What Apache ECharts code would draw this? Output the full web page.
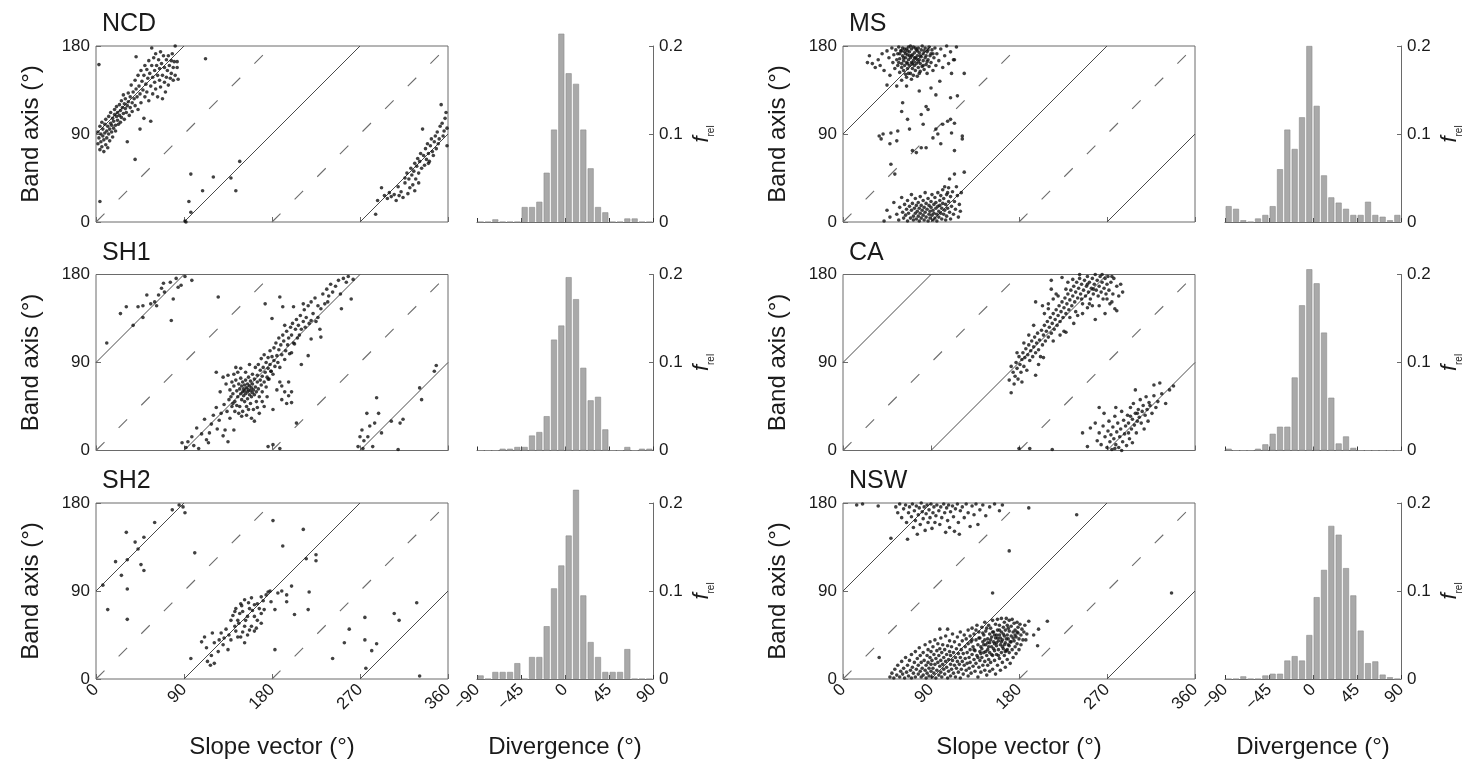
<!DOCTYPE html>
<html>
<head>
<meta charset="utf-8">
<script src="https://cdn.jsdelivr.net/npm/echarts@6/dist/echarts.min.js"></script>
<style>
html,body{margin:0;padding:0;background:#fff;}
#chart{width:1484px;height:769px;}
</style>
</head>
<body>
<div id="chart"></div>
<script>
// Site names, in panel order (left column top to bottom, then right column)
const SITES = ['NCD', 'SH1', 'SH2', 'MS', 'CA', 'NSW'];

// Tick values
const SLOPE_TICKS = [0, 90, 180, 270, 360];
const BAND_TICKS = [0, 90, 180];
const DIV_TICKS = [-90, -45, 0, 45, 90];
const FREL_TICKS = [0, 0.1, 0.2];

// Divergence histogram: 7.5° bins from -90 to 90 (bin centres)
const BIN_CENTERS = [-86.25, -78.75, -71.25, -63.75, -56.25, -48.75, -41.25, -33.75,
  -26.25, -18.75, -11.25, -3.75, 3.75, 11.25, 18.75, 26.25, 33.75, 41.25, 48.75,
  56.25, 63.75, 71.25, 78.75, 86.25];

// Relative frequencies per bin
const HIST_NCD = [0, 0, 0.003, 0, 0, 0, 0.017, 0.017, 0.023, 0.056, 0.105, 0.214,
  0.169, 0.157, 0.105, 0.061, 0.017, 0.011, 0, 0, 0.004, 0.004, 0, 0];
const HIST_SH1 = [0, 0, 0, 0.002, 0.002, 0.004, 0.004, 0.017, 0.021, 0.039, 0.126, 0.142,
  0.197, 0.172, 0.094, 0.057, 0.061, 0.024, 0, 0, 0.004, 0, 0.002, 0.002];
const HIST_SH2 = [0.004, 0, 0.008, 0.008, 0.008, 0.018, 0, 0.025, 0.025, 0.06, 0.103, 0.129,
  0.163, 0.215, 0.095, 0.042, 0.025, 0.008, 0.008, 0.008, 0.034, 0, 0, 0];
const HIST_MS = [0.018, 0.015, 0.002, 0, 0.004, 0.008, 0.018, 0.06, 0.105, 0.083, 0.119, 0.2,
  0.132, 0.053, 0.028, 0.022, 0.015, 0.008, 0.008, 0.023, 0.008, 0.006, 0.002, 0.008];
const HIST_CA = [0.002, 0, 0, 0, 0.002, 0.007, 0.019, 0.027, 0.027, 0.083, 0.165, 0.206,
  0.19, 0.134, 0.06, 0.008, 0.016, 0.003, 0, 0, 0, 0, 0, 0];
const HIST_NSW = [0, 0, 0.003, 0, 0, 0.004, 0.006, 0.006, 0.021, 0.026, 0.021, 0.05,
  0.093, 0.124, 0.174, 0.164, 0.126, 0.095, 0.055, 0.018, 0.02, 0.005, 0.002, 0];

// Slope vector / band axis pairs (deg), stored flat as x, y, x, y, ...
const PTS_NCD = [
  2,92, 2,80, 3,161, 3,86, 4,74, 4,98, 5,90, 5,82, 6,77, 6,102, 7,88, 7,95, 8,72, 8,84, 9,100, 9,91,
  10,79, 10,105, 11,93, 11,86, 12,98, 12,76, 13,108, 13,90, 14,95, 14,83, 15,101, 15,112, 16,92, 16,99,
  17,87, 17,106, 18,103, 18,96, 19,115, 19,110, 20,99, 20,93, 21,108, 21,118, 22,104, 22,112, 23,100,
  24,120, 24,109, 25,114, 25,102, 26,124, 26,107, 27,117, 28,111, 28,130, 29,105, 29,121, 30,116,
  30,126, 31,112, 32,82, 32,119, 33,132, 33,123, 34,109, 35,128, 35,117, 36,140, 37,122, 37,113,
  38,133, 39,126, 40,64, 40,119, 40,145, 41,169, 41,136, 42,128, 43,150, 43,115, 44,139, 45,131,
  45,95, 46,155, 46,122, 47,144, 48,135, 49,106, 49,150, 50,160, 50,128, 51,141, 52,156, 52,133,
  53,147, 54,165, 54,124, 55,152, 56,103, 56,139, 57,178, 57,160, 58,148, 58,131, 59,168, 60,155,
  60,143, 61,172, 61,136, 62,160, 63,150, 63,128, 64,166, 65,145, 65,157, 66,174, 66,138, 67,162,
  68,150, 68,126, 69,170, 70,143, 70,158, 71,133, 72,166, 72,148, 73,155, 74,170, 74,140, 75,160,
  76,147, 77,165, 77,152, 78,172, 79,158, 79,145, 80,164, 81,180, 81,150, 83,164, 83,158, 84,146,
  4,21, 112,167, 97,49, 95,21, 97,10, 91,1, 92,0, 109,32, 120,46, 138,45, 143,32, 147,62, 286,8,
  288,22, 292,35, 295,27, 298,24, 300,30, 302,26, 305,28, 307,22, 309,36, 310,27, 312,31, 314,25,
  316,40, 318,50, 319,29, 320,44, 321,35, 322,55, 323,48, 324,38, 325,52, 326,60, 327,44, 328,57,
  329,65, 330,50, 331,62, 332,70, 333,55, 334,95, 335,68, 336,58, 337,75, 338,64, 339,80, 340,70,
  341,62, 342,78, 343,85, 344,72, 345,68, 346,82, 347,88, 348,75, 349,92, 350,80, 351,85, 352,98,
  353,120, 354,101, 355,88, 356,93, 357,106, 358,112, 359,78, 359,96, 330,40, 326,32, 316,45, 340,60
];
const PTS_SH1 = [
  11,110, 31,147, 43,147, 48,148, 52,159, 62,148, 64,159, 69,171, 70,162, 77,133, 79,155, 84,167,
  87,169, 98,174, 38,128, 48,136, 60,152, 67,166, 76,172, 56,150, 82,176, 91,178, 25,140,
  125,157, 173,150, 180,135, 188,157, 191,147, 202,147, 212,150, 193,128, 205,28, 176,4, 181,6, 188,2,
  88,8, 92,3, 94,9, 98,14, 100,5, 103,23, 105,2, 108,17, 111,32, 113,11, 115,8, 116,18, 118,27,
  120,36, 123,44, 124,22, 126,31, 128,38, 130,15, 131,47, 132,21, 134,40, 135,9, 136,52, 137,33,
  139,45, 141,21,
  140,58, 141,66, 142,50, 143,72, 144,61, 145,55, 145,80, 146,68, 147,45, 147,63, 148,58, 148,74,
  149,52, 149,66, 150,60, 150,70, 150,40, 151,63, 151,56, 152,67, 152,50, 152,61, 153,58, 153,72,
  154,64, 154,45, 155,60, 155,68, 155,53, 156,62, 156,75, 157,57, 157,66, 158,48, 158,61, 158,71,
  159,64, 159,55, 160,59, 160,78, 160,68, 161,42, 161,62, 162,73, 162,57, 163,65, 163,85, 164,60,
  164,50, 165,70, 165,77, 166,63, 166,88, 167,55, 168,72, 168,82, 169,67, 169,94, 170,76, 170,60,
  171,85, 172,70, 172,98, 173,80, 174,90, 174,65, 175,75, 176,95, 176,84, 177,73, 178,102, 178,88,
  179,81, 180,96, 181,78, 182,105, 182,92, 183,86, 184,110, 185,97, 186,90, 187,115, 187,103, 188,85,
  189,108, 190,66, 190,98, 191,118, 192,112, 193,93, 194,102, 195,122, 196,108, 197,56, 197,115,
  198,99, 199,126, 200,49, 200,100, 200,118, 201,130, 202,110, 203,109, 204,124, 205,134, 206,115,
  207,128, 208,118, 209,138, 210,88, 210,124, 212,132, 213,144, 214,126, 215,136, 217,97, 217,148,
  218,130, 220,114, 220,133, 220,152, 222,140, 224,156, 225,132, 227,136, 227,148, 229,124, 230,116,
  230,145, 232,160, 234,150, 236,165, 237,152, 238,158, 240,170, 242,162, 245,168, 248,174, 250,160,
  251,145, 253,176, 256,172, 258,178, 261,155, 263,175,
  123,80, 130,75, 127,60, 133,68, 135,77, 137,62, 138,55, 139,70, 140,48, 141,78, 142,40, 143,85,
  144,46, 146,38, 148,84, 149,35, 153,80, 154,36, 156,42, 157,88, 159,33, 162,30, 165,44, 167,38,
  170,50, 172,45, 175,55, 176,73, 179,81, 181,42, 185,62, 188,70, 190,52, 193,60, 195,48, 197,70, 200,60,
  268,4, 270,14, 272,21, 273,2, 277,38, 278,14, 283,4, 285,28, 287,54, 289,38, 292,18, 302,30, 309,1,
  311,28, 314,32, 331,64, 333,52, 346,81, 348,87, 274,10, 280,25
];
const PTS_SH2 = [
  78,173, 89,176, 91,170, 31,150, 49,145, 43,133, 32,122, 46,117, 49,111, 26,106, 32,92, 7,96, 12,71,
  32,61, 101,129, 60,160, 85,178, 20,120, 40,140,
  181,162, 212,153, 191,136, 215,123, 225,127, 225,121, 218,89, 195,86, 195,79, 203,66, 217,71,
  183,71, 183,30, 200,95, 190,90,
  97,21, 111,43, 119,47, 128,47, 113,32, 121,37, 126,40, 114,18, 121,16, 117,14, 135,30, 138,40,
  142,54, 145,60, 147,67, 148,77, 152,81, 159,83, 162,76, 165,77, 169,84, 174,86, 176,89, 155,64,
  162,64, 169,67, 152,54, 145,43, 152,37, 162,49, 169,57, 143,72, 150,69, 157,72, 142,69, 138,60,
  133,51, 143,49, 148,43, 155,45, 159,54, 165,60, 172,71, 179,79, 186,88, 164,52, 130,35, 125,28,
  118,24, 108,38, 140,65, 153,60, 157,50, 160,70, 167,72, 146,57, 150,48, 136,45, 131,42, 171,80,
  178,90, 149,75, 156,78,
  275,63, 305,67, 328,78, 259,51, 254,37, 275,40, 287,36, 282,29, 242,21, 276,11, 331,3, 310,60
];
const PTS_MS = [
  25,163, 27,170, 30,162, 33,158, 36,166, 38,160, 40,172, 42,155, 45,175, 47,168, 48,150, 50,178,
  51,163, 52,171, 53,157, 54,176, 55,166, 56,160, 56,172, 57,179, 58,153, 58,167, 59,175, 60,162,
  60,158, 61,170, 61,178, 62,165, 62,155, 63,174, 63,160, 64,168, 64,151, 65,177, 65,163, 66,171,
  66,157, 67,166, 67,179, 68,160, 68,174, 69,152, 69,168, 70,163, 70,177, 71,157, 71,171, 72,165,
  72,179, 73,160, 73,173, 74,155, 74,168, 75,176, 75,162, 76,149, 76,170, 77,158, 77,178, 78,166,
  78,173, 79,154, 79,162, 80,176, 80,169, 81,159, 81,180, 82,165, 82,172, 83,156, 84,178, 84,168,
  85,161, 86,174, 86,152, 87,166, 88,179, 88,159, 89,170, 90,163, 91,176, 92,155, 93,168, 94,178,
  95,160, 96,172, 98,165, 100,177, 102,158, 104,170, 106,180, 108,162, 110,174, 113,166, 116,179,
  60,145, 65,148, 70,146, 58,172, 63,177, 67,152, 72,150, 74,178, 78,152, 83,175, 85,170, 62,168,
  66,175, 70,170, 57,163, 66,162, 68,170, 73,168, 76,175, 79,170, 82,160, 86,164, 90,172, 64,172,
  71,162, 60,175, 75,167, 87,176, 92,172, 69,180, 77,164,
  55,139, 65,139, 78,134, 90,137, 99,144, 111,152, 124,152, 114,166, 61,122, 60,113, 85,118, 87,115,
  110,127, 117,129, 66,105, 82,100, 95,95, 102,100, 107,103, 110,105, 114,101, 37,88, 41,90, 49,91,
  56,93, 55,83, 48,80, 39,85, 92,86, 97,90, 111,91, 122,88, 122,85, 71,73, 75,71, 80,76, 85,76,
  114,73, 49,59, 53,49, 109,44, 114,49, 124,51, 104,36, 107,30, 45,140, 95,130, 80,110, 100,80, 68,95,
  42,1, 45,12, 48,5, 52,20, 55,8, 57,2, 58,15, 60,25, 61,10, 62,4, 63,18, 64,7, 65,13, 66,1, 66,22,
  67,9, 68,16, 69,4, 70,28, 70,12, 71,19, 72,6, 72,2, 73,14, 74,24, 74,9, 75,3, 75,17, 76,11, 77,20,
  77,6, 78,14, 78,1, 79,9, 79,26, 80,17, 80,4, 81,12, 82,22, 82,7, 83,2, 83,15, 84,10, 84,30, 85,19,
  85,5, 86,13, 87,1, 87,24, 88,8, 88,17, 89,4, 89,11, 90,21, 90,15, 91,7, 91,28, 92,2, 92,12, 93,18,
  93,9, 94,25, 94,4, 95,14, 95,20, 96,8, 96,1, 97,16, 97,30, 98,11, 98,5, 99,22, 99,17, 100,9, 100,27,
  101,3, 101,14, 102,19, 102,33, 103,8, 103,24, 104,12, 105,2, 105,18, 106,28, 106,6, 107,14, 108,35,
  108,21, 109,10, 110,26, 110,3, 111,16, 112,31, 113,8, 114,21, 115,13, 116,36, 117,27, 118,5, 119,18,
  120,11, 121,30
];
const PTS_CA = [
  172,59, 170,72, 172,86, 174,80, 175,68, 176,76, 177,90, 178,84, 179,73, 180,96, 181,88, 182,80,
  183,93, 184,100, 185,86, 186,95, 187,104, 188,82, 189,98, 190,108, 191,92, 192,102, 193,112, 194,96,
  195,106, 196,116, 197,77, 197,100, 198,110, 199,120, 200,103, 201,113, 202,96, 203,123, 204,108,
  205,118, 206,128, 207,112, 208,122, 209,132, 210,116, 211,126, 212,136, 213,120, 214,130, 215,140,
  216,124, 217,134, 218,144, 219,128, 220,138, 221,148, 222,132, 223,142, 224,152, 225,136, 226,146,
  227,156, 228,121, 228,140, 229,150, 230,160, 231,144, 232,154, 233,164, 234,148, 235,158, 236,168,
  237,152, 238,162, 239,172, 240,156, 241,166, 242,176, 243,160, 244,170, 245,150, 246,164, 247,174,
  248,158, 249,168, 250,178, 251,162, 252,172, 253,155, 254,166, 255,176, 256,160, 257,170, 258,134,
  258,180, 259,164, 260,174, 261,158, 262,168, 263,178, 264,162, 265,172, 266,155, 267,166, 268,176,
  269,160, 270,170, 271,178, 272,164, 273,150, 274,172, 275,152, 276,160, 277,176, 278,145, 280,143,
  280,168, 282,158, 197,152, 204,148, 213,165, 213,174, 224,177, 220,158, 230,172, 235,175, 215,155,
  210,145, 245,140, 250,146, 240,138, 255,148, 236,130, 226,122,
  190,118, 185,110, 200,88, 205,95, 195,128, 178,100, 183,70, 215,112, 222,118, 232,136, 238,142,
  244,155, 252,150, 262,148, 270,155, 268,140, 210,150, 218,160, 206,140, 228,165, 242,180, 265,180,
  275,178, 284,170, 286,162, 250,170, 256,165,
  324,69, 318,67, 334,62, 313,49, 299,62, 262,44, 279,44, 258,28, 253,23, 250,4, 245,18, 180,2, 191,2,
  214,1, 292,18, 294,35, 301,38,
  260,10, 262,18, 264,6, 266,25, 268,14, 270,3, 271,20, 272,30, 273,9, 274,16, 275,1, 276,24, 277,12,
  278,35, 279,6, 280,19, 281,28, 282,3, 283,14, 284,22, 285,40, 286,9, 287,31, 288,17, 289,25, 290,5,
  291,36, 292,28, 293,12, 294,44, 295,22, 296,32, 297,48, 298,26, 299,38, 300,18, 301,30, 302,42,
  303,34, 304,52, 305,28, 306,40, 307,46, 308,22, 309,36, 310,55, 311,42, 312,30, 314,46, 316,38,
  318,56, 320,44, 322,50, 326,58, 330,48, 338,66, 267,38, 285,0, 278,2, 296,8
];
const PTS_NSW = [
  14,178, 20,179, 36,177, 49,144, 54,176, 56,170, 58,179, 60,165, 62,174, 64,178, 65,160, 66,143,
  67,170, 68,176, 70,166, 71,179, 72,155, 73,172, 74,162, 75,177, 76,148, 77,168, 78,175, 79,158,
  80,180, 81,171, 82,164, 83,176, 84,152, 85,169, 86,178, 87,160, 88,173, 89,165, 90,179, 91,154,
  92,170, 93,176, 94,160, 95,167, 96,178, 98,172, 99,158, 100,176, 101,165, 103,179, 104,170, 105,150,
  106,175, 107,162, 108,178, 109,155, 110,171, 112,177, 113,166, 114,151, 115,174, 117,179, 118,160,
  119,148, 120,172, 122,176, 124,165, 126,179, 128,170, 130,156, 132,177, 134,168, 136,179, 138,158,
  140,173, 143,178, 146,167, 150,176, 155,179, 160,172, 163,178, 190,175, 239,168, 170,131, 153,88,
  336,88, 37,22,
  48,2, 50,6, 52,1, 53,10, 55,4, 56,14, 58,2, 59,8, 60,18, 61,5, 62,11, 63,1, 64,22, 65,7, 66,14,
  67,3, 68,19, 69,9, 70,1, 70,25,
  71,12, 72,6, 73,17, 74,2, 74,28, 75,10, 76,21, 77,5, 77,14, 78,32, 79,8, 79,24, 80,2, 80,17, 81,11,
  82,27, 82,4, 83,19, 84,9, 84,35, 85,14, 85,1, 86,24, 86,6, 87,30, 87,17, 88,11, 88,3, 89,22, 89,38,
  90,8, 90,15, 90,28,
  91,2, 91,19, 92,33, 92,11, 93,25, 93,6, 94,15, 94,40, 95,1, 95,21, 96,9, 96,29, 97,17, 97,36, 98,4,
  98,24, 99,13, 99,31, 100,19, 100,7, 100,42, 101,27, 101,2, 102,15, 102,35, 103,10, 103,22, 104,30,
  104,5, 105,18, 105,44, 106,25, 106,12, 107,1, 107,34, 108,20, 108,8, 109,28, 109,39, 110,15, 110,3,
  110,24,
  111,33, 111,10, 112,19, 112,46, 113,6, 113,27, 114,14, 114,38, 115,22, 115,2, 116,31, 116,11, 117,43,
  117,18, 118,26, 118,7, 119,35, 119,15, 120,48, 120,22, 120,1, 121,30, 121,10, 122,39, 122,18, 123,26,
  123,5, 124,45, 124,14, 125,33, 125,21, 126,9, 126,41, 127,27, 127,16, 128,50, 128,3, 128,36, 129,22,
  129,11, 130,44, 130,30, 130,17,
  131,6, 131,38, 132,25, 132,52, 133,13, 133,33, 134,20, 134,46, 135,8, 135,29, 136,40, 136,16, 137,55,
  137,24, 138,2, 138,35, 139,12, 139,48, 140,28, 140,19, 140,42, 141,7, 141,33, 142,53, 142,22, 143,14,
  143,38, 144,45, 144,27, 145,9, 145,58, 145,18, 146,35, 146,49, 147,24, 147,4, 148,41, 148,30, 148,14,
  149,55, 149,20, 150,37, 150,46, 150,8, 150,27,
  151,52, 151,17, 152,33, 152,43, 153,24, 153,60, 153,10, 154,38, 154,48, 155,29, 155,19, 156,56,
  156,42, 156,5, 157,34, 157,25, 158,50, 158,14, 158,61, 159,39, 159,30, 160,45, 160,21, 160,55, 161,35,
  161,9, 162,48, 162,27, 162,62, 163,40, 163,17, 164,53, 164,31, 165,44, 165,58, 165,24, 166,37, 166,12,
  166,50, 167,29, 167,62, 168,45, 168,20, 168,55, 169,35, 169,41, 170,60, 170,27, 170,49,
  171,16, 171,38, 172,54, 172,44, 173,30, 173,61, 174,48, 174,22, 175,39, 175,57, 176,33, 176,50,
  177,43, 177,26, 178,58, 178,36, 179,47, 179,53, 180,30, 180,41, 181,56, 182,45, 182,35, 183,51,
  184,40, 185,48, 186,55, 187,40, 188,46, 190,59, 195,45, 199,34, 200,51, 209,59, 99,51, 107,51,
  132,40, 134,30, 136,50, 138,22, 139,42, 141,26, 143,47, 144,35, 146,28, 147,52, 149,33, 151,40,
  152,25, 154,31, 155,45, 157,37, 159,24, 160,50, 161,42, 163,33, 164,46, 166,28, 167,41, 169,52,
  170,34, 172,38, 174,42, 176,45, 178,48, 155,36, 158,42, 162,38, 165,35, 168,30, 145,40, 142,31,
  148,37, 153,48, 157,45
];

// Reference diagonals [x1, y1, x2, y2]: band axis parallel (dashed) and perpendicular (solid) to slope
const SOLID_GUIDES = [[0, 90, 90, 180], [90, 0, 270, 180], [270, 0, 360, 90]];
const DASHED_GUIDES = [[0, 0, 180, 180], [180, 0, 360, 180]];

const HISTS = [HIST_NCD, HIST_SH1, HIST_SH2, HIST_MS, HIST_CA, HIST_NSW];
const POINTS = [PTS_NCD, PTS_SH1, PTS_SH2, PTS_MS, PTS_CA, PTS_NSW];

// ---- layout ----
const FONT = '"Liberation Sans", Arial, Helvetica, sans-serif';
const SCATTER_LEFT = [96, 843];
const HIST_LEFT = [477, 1225];
const ROW_TOP = [46, 274.5, 503];
const PANEL_H = 176;
const SCATTER_W = 352;
const HIST_W = 176;
const AXIS_COLOR = '#6a6a6a';
const TEXT_COLOR = '#1a1a1a';

function pairs(flat) {
  const out = [];
  for (let i = 0; i < flat.length; i += 2) out.push([flat[i], flat[i + 1]]);
  return out;
}
function signed(v) {
  return v < 0 ? '\u2212' + (-v) : String(v);
}

const grid = [], xAxis = [], yAxis = [], series = [], title = [];

SITES.forEach((site, i) => {
  const col = i < 3 ? 0 : 1;
  const row = i % 3;
  const bottom = row === 2;
  const gS = 2 * i, gH = 2 * i + 1;

  grid.push({
    left: SCATTER_LEFT[col], top: ROW_TOP[row], width: SCATTER_W, height: PANEL_H,
    show: true, borderColor: AXIS_COLOR, borderWidth: 1, backgroundColor: 'transparent',
    containLabel: false, outerBoundsMode: 'none'
  });
  grid.push({
    left: HIST_LEFT[col], top: ROW_TOP[row], width: HIST_W, height: PANEL_H,
    containLabel: false, outerBoundsMode: 'none'
  });

  title.push({
    text: site, left: SCATTER_LEFT[col] + 1, top: ROW_TOP[row] - 39,
    textStyle: { fontSize: 25, fontWeight: 'normal', color: TEXT_COLOR, fontFamily: FONT }
  });

  // scatter axes
  xAxis.push({
    gridIndex: gS, type: 'value', min: SLOPE_TICKS[0], max: SLOPE_TICKS[SLOPE_TICKS.length - 1],
    interval: SLOPE_TICKS[1] - SLOPE_TICKS[0],
    axisLine: { show: false, onZero: false },
    axisTick: { show: true, inside: true, length: 5, lineStyle: { color: AXIS_COLOR } },
    axisLabel: { show: bottom, rotate: 45, fontSize: 17, color: TEXT_COLOR, margin: 8, fontFamily: FONT },
    splitLine: { show: false },
    name: bottom ? 'Slope vector (°)' : '', nameLocation: 'middle', nameGap: 56,
    nameTextStyle: { fontSize: 24, color: TEXT_COLOR, fontFamily: FONT }
  });
  yAxis.push({
    gridIndex: gS, type: 'value', min: BAND_TICKS[0], max: BAND_TICKS[BAND_TICKS.length - 1],
    interval: BAND_TICKS[1] - BAND_TICKS[0],
    axisLine: { show: false, onZero: false },
    axisTick: { show: true, inside: true, length: 5, lineStyle: { color: AXIS_COLOR } },
    axisLabel: { fontSize: 17, color: TEXT_COLOR, margin: 6, fontFamily: FONT },
    splitLine: { show: false },
    name: 'Band axis (°)', nameLocation: 'middle', nameGap: 53, nameRotate: 90,
    nameTextStyle: { fontSize: 24, color: TEXT_COLOR, fontFamily: FONT }
  });

  // histogram axes
  xAxis.push({
    gridIndex: gH, type: 'value', min: DIV_TICKS[0], max: DIV_TICKS[DIV_TICKS.length - 1],
    interval: DIV_TICKS[1] - DIV_TICKS[0],
    axisLine: { show: true, onZero: false, lineStyle: { color: AXIS_COLOR, width: 1 } },
    axisTick: { show: true, inside: true, length: 4, lineStyle: { color: '#333' } },
    axisLabel: { show: bottom, rotate: 45, fontSize: 17, color: TEXT_COLOR, margin: 8, fontFamily: FONT,
      formatter: signed },
    splitLine: { show: false },
    name: bottom ? 'Divergence (°)' : '', nameLocation: 'middle', nameGap: 56,
    nameTextStyle: { fontSize: 24, color: TEXT_COLOR, fontFamily: FONT }
  });
  yAxis.push({
    gridIndex: gH, type: 'value', position: 'right', min: FREL_TICKS[0],
    max: FREL_TICKS[FREL_TICKS.length - 1], interval: FREL_TICKS[1] - FREL_TICKS[0],
    axisLine: { show: true, onZero: false, lineStyle: { color: AXIS_COLOR, width: 1 } },
    axisTick: { show: true, inside: true, length: 4, lineStyle: { color: AXIS_COLOR } },
    axisLabel: { fontSize: 17, color: TEXT_COLOR, margin: 6, fontFamily: FONT,
      formatter: v => (v === 0 ? '0' : v.toFixed(1)) },
    splitLine: { show: false },
    name: '{f|f}{r|rel}', nameLocation: 'middle', nameGap: 35, nameRotate: 90,
    nameTextStyle: {
      color: TEXT_COLOR, fontFamily: FONT,
      rich: {
        f: { fontSize: 22, fontStyle: 'italic', fontFamily: FONT, color: TEXT_COLOR, lineHeight: 28, verticalAlign: 'middle' },
        r: { fontSize: 10, fontFamily: FONT, color: TEXT_COLOR, lineHeight: 10, verticalAlign: 'bottom' }
      }
    }
  });

  // guide diagonals
  SOLID_GUIDES.forEach(g => series.push({
    type: 'line', xAxisIndex: gS, yAxisIndex: gS, data: [[g[0], g[1]], [g[2], g[3]]],
    symbol: 'none', silent: true, z: 1, animation: false,
    lineStyle: { color: '#4a4a4a', width: 1 }
  }));
  DASHED_GUIDES.forEach(g => series.push({
    type: 'line', xAxisIndex: gS, yAxisIndex: gS, data: [[g[0], g[1]], [g[2], g[3]]],
    symbol: 'none', silent: true, z: 1, animation: false,
    lineStyle: { color: '#6e6e6e', width: 1.1, type: [12, 20] }
  }));

  // points
  series.push({
    type: 'scatter', xAxisIndex: gS, yAxisIndex: gS, data: pairs(POINTS[i]),
    symbol: 'circle', symbolSize: 3.6, silent: true, z: 3, animation: false,
    itemStyle: { color: '#111' }
  });

  // divergence histogram
  series.push({
    type: 'bar', xAxisIndex: gH, yAxisIndex: gH,
    data: BIN_CENTERS.map((c, k) => [c, HISTS[i][k]]),
    barWidth: 6, clip: false, silent: true, animation: false, z: 2,
    itemStyle: { color: '#a9a9a9', borderColor: '#8c8c8c', borderWidth: 0.6 }
  });
});

const chart = echarts.init(document.getElementById('chart'), null, { renderer: 'canvas' });
chart.setOption({
  animation: false,
  backgroundColor: '#fff',
  textStyle: { fontFamily: FONT },
  title, grid, xAxis, yAxis, series
});
</script>
</body>
</html>
